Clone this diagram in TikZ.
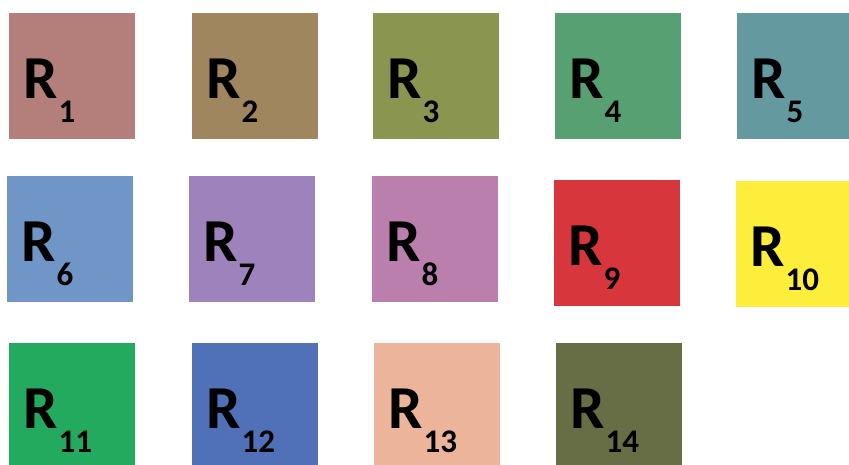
\documentclass[tikz,border=0pt]{standalone}
\usepackage{fontspec}
\newfontfamily\tilefont{Carlito}
\usetikzlibrary{positioning,calc}
\definecolor{rose}{HTML}{B47F7A}
\definecolor{khaki}{HTML}{9F865E}
\definecolor{olive}{HTML}{8A9550}
\definecolor{jade}{HTML}{57A071}
\definecolor{teal}{HTML}{6499A0}
\definecolor{steel}{HTML}{6F96C6}
\definecolor{lilac}{HTML}{9D82BC}
\definecolor{orchid}{HTML}{BB7FAE}
\definecolor{crimson}{HTML}{D6363C}
\definecolor{lemon}{HTML}{FCEE3A}
\definecolor{emerald}{HTML}{23AA5E}
\definecolor{cobalt}{HTML}{5071B8}
\definecolor{peach}{HTML}{ECB49B}
\definecolor{moss}{HTML}{676E45}
\newcommand{\rsub}[1]{R\kern1pt\raisebox{-24pt}{\fontsize{33}{33}\selectfont #1}}
\tikzset{
  tile/.style={fill=#1, minimum width=126pt, minimum height=126pt, inner sep=0pt,
    anchor=north west},
  lbl/.style={anchor=base west, inner sep=0pt, text=black,
    font=\tilefont\bfseries\fontsize{61}{61}\selectfont},
}
\begin{document}
\begin{tikzpicture}[x=1pt,y=-1pt]
  \clip (0,0) rectangle (849,464);
  \fill[white] (0,0) rectangle (849,464);
  \foreach \i/\x/\y/\c in {1/9/13/rose,2/192/13/khaki,3/373/13/olive,4/555/13/jade,5/737/13/teal,
    6/7/176/steel,7/189/176/lilac,8/372/176/orchid,9/554/180/crimson,10/736/181/lemon,
    11/9/343/emerald,12/192/343/cobalt,13/374/343/peach,14/556/343/moss}{
    \node[tile=\c] (r\i) at (\x,\y) {};
    \node[lbl] (l\i) at ($(r\i.north west)+(14,85)$) {\rsub{\i}};
  }
\end{tikzpicture}
\end{document}
